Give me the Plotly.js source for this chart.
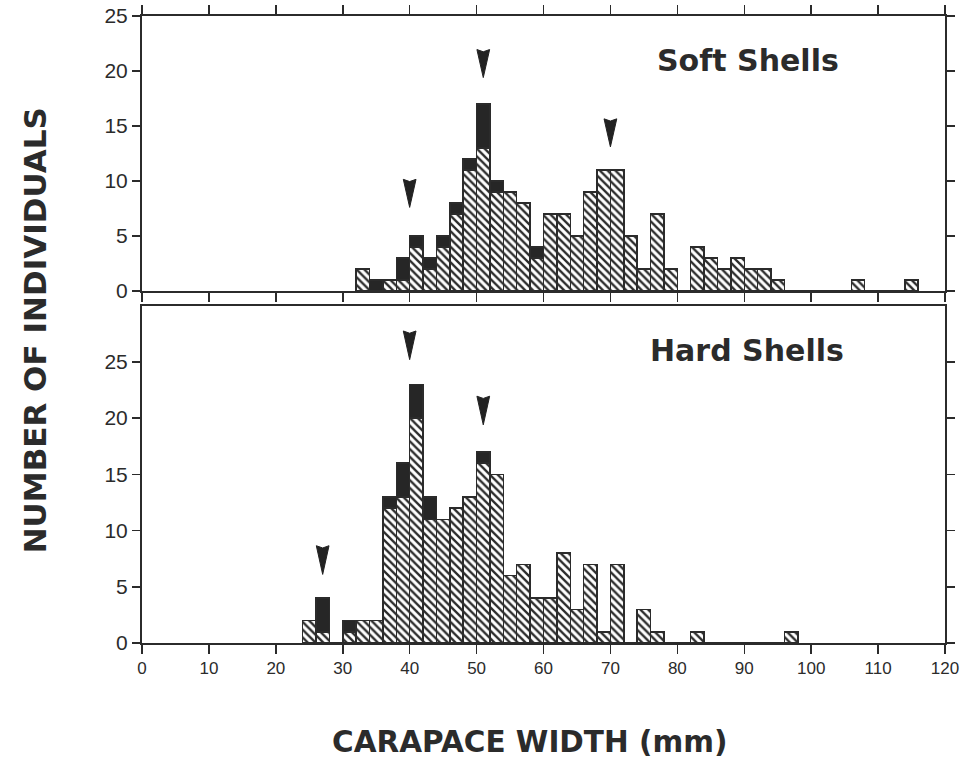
<!DOCTYPE html>
<html><head><meta charset="utf-8">
<script src="https://cdn.plot.ly/plotly-3.0.1.min.js"></script>
<style>html,body{margin:0;padding:0;background:#fff}#chart{width:961px;height:760px}</style>
</head><body><div id="chart"></div>
<script>
// Bin centres (2 mm bins) and counts
const softX = [33,35,37,39,41,43,45,47,49,51,53,55,57,59,61,63,65,67,69,71,73,75,77,79,81,83,85,87,89,91,93,95,97,99,101,103,105,107,109,111,113,115];
const softHatched = [2,0,1,1,4,2,4,7,11,13,9,9,8,3,7,7,5,9,11,11,5,2,7,2,0,4,3,2,3,2,2,1,0,0,0,0,0,1,0,0,0,1];
const softSolid   = [0,1,0,2,1,1,1,1,1,4,1,0,0,1,0,0,0,0,0,0,0,0,0,0,0,0,0,0,0,0,0,0,0,0,0,0,0,0,0,0,0,0];

const hardX = [25,27,29,31,33,35,37,39,41,43,45,47,49,51,53,55,57,59,61,63,65,67,69,71,73,75,77,79,81,83,85,87,89,91,93,95,97];
const hardHatched = [2,1,0,1,2,2,12,13,20,11,11,12,13,16,15,6,7,4,4,8,3,7,1,7,0,3,1,0,0,1,0,0,0,0,0,0,1];
const hardSolid   = [0,3,0,1,0,0,1,3,3,2,0,0,0,1,0,0,0,0,0,0,0,0,0,0,0,0,0,0,0,0,0,0,0,0,0,0,0];

// Arrow markers (mode positions) and their tip heights
const softArrowX = [40, 51, 70];
const softArrowTip = [7.6, 19.4, 13.1];
const hardArrowX = [27, 40, 51];
const hardArrowTip = [6.1, 25.2, 19.4];

const xTicks = [0,10,20,30,40,50,60,70,80,90,100,110,120];
const yTicks = [0,5,10,15,20,25];

const ink = '#2b2b2b';

function hatchTrace(x, y, xa, ya) {
  return {type:'bar', x:x, y:y, width:2, xaxis:xa, yaxis:ya, showlegend:false, hoverinfo:'skip',
    marker:{color:'white', line:{color:ink, width:1.5},
      pattern:{shape:'\\', fgcolor:ink, bgcolor:'white', size:5.5, solidity:0.42}}};
}
function solidTrace(x, y, xa, ya) {
  return {type:'bar', x:x, y:y, width:2, xaxis:xa, yaxis:ya, showlegend:false, hoverinfo:'skip',
    marker:{color:'#262626', line:{color:ink, width:1.5}}};
}

const data = [
  hatchTrace(softX, softHatched, 'x2', 'y2'),
  solidTrace(softX, softSolid, 'x2', 'y2'),
  hatchTrace(hardX, hardHatched, 'x', 'y'),
  solidTrace(hardX, hardSolid, 'x', 'y')
];

function arrowShapes(xs, tips, xref, yref) {
  return xs.map((x, i) => {
    const t = tips[i], top = t + 2.55, notch = t + 2.35, hw = 0.95;
    return {type:'path', xref:xref, yref:yref,
      path:`M ${x-hw},${top} L ${x},${t} L ${x+hw},${top} L ${x},${notch} Z`,
      fillcolor:'#222', line:{color:'#222', width:1}};
  });
}

const axisCommon = {showline:true, linewidth:2, linecolor:ink, ticks:'outside', tickcolor:ink,
  tickwidth:1.5, zeroline:false, showgrid:false, fixedrange:true};

const layout = {
  width:961, height:760, paper_bgcolor:'#fff', plot_bgcolor:'#fff',
  margin:{l:142, r:16, t:16, b:117},
  barmode:'stack', bargap:0,
  showlegend:false,
  xaxis: Object.assign({}, axisCommon, {domain:[0,1], anchor:'y', range:[0,120], tickvals:xTicks,
    ticklen:9, mirror:true, ticklabeloverflow:'allow',
    tickfont:{family:'Liberation Sans, Arial', size:17, color:ink}}),
  yaxis: Object.assign({}, axisCommon, {domain:[0,0.538], anchor:'x', range:[0,30], tickvals:yTicks,
    ticklen:8, mirror:'ticks',
    tickfont:{family:'Liberation Sans, Arial', size:21, color:ink}}),
  xaxis2: Object.assign({}, axisCommon, {domain:[0,1], anchor:'y2', range:[0,120], tickvals:xTicks,
    ticklen:9, mirror:'ticks', showticklabels:false}),
  yaxis2: Object.assign({}, axisCommon, {domain:[0.5614,1], anchor:'x2', range:[0,25], tickvals:yTicks,
    ticklen:8, mirror:'ticks',
    tickfont:{family:'Liberation Sans, Arial', size:21, color:ink}}),
  shapes: arrowShapes(softArrowX, softArrowTip, 'x2', 'y2').concat(arrowShapes(hardArrowX, hardArrowTip, 'x', 'y')),
  annotations: [
    {text:'Soft Shells', xref:'paper', yref:'paper', x:0.755, y:0.929, xanchor:'center', yanchor:'middle',
      showarrow:false, font:{family:'DejaVu Sans', weight:'bold', size:30, color:ink}},
    {text:'Hard Shells', xref:'paper', yref:'paper', x:0.754, y:0.466, xanchor:'center', yanchor:'middle',
      showarrow:false, font:{family:'DejaVu Sans', weight:'bold', size:30, color:ink}},
    {text:'NUMBER OF INDIVIDUALS', xref:'paper', yref:'paper', x:-0.133, y:0.499, xanchor:'center', yanchor:'middle',
      textangle:-90, showarrow:false, font:{family:'DejaVu Sans', weight:'bold', size:31, color:ink}},
    {text:'CARAPACE WIDTH (mm)', xref:'paper', yref:'paper', x:0.482, y:-0.158, xanchor:'center', yanchor:'middle',
      borderpad:0, showarrow:false, font:{family:'DejaVu Sans', weight:'bold', size:29.5, color:ink}}
  ]
};

Plotly.newPlot('chart', data, layout, {displayModeBar:false, staticPlot:true});
</script>
</body></html>
